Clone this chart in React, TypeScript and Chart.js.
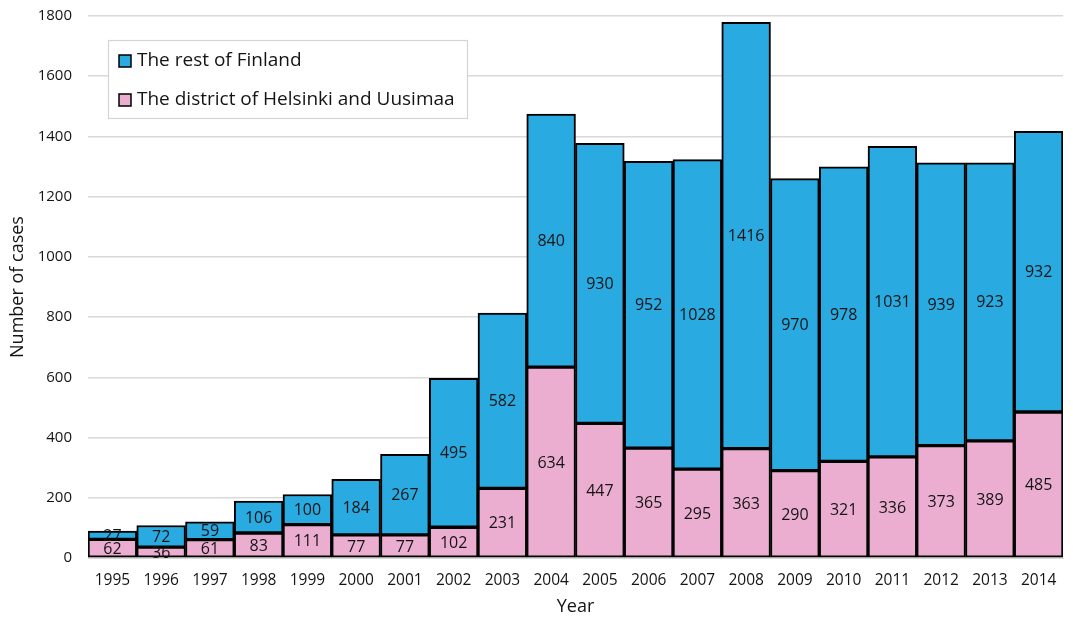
import React, { useEffect, useRef } from "react";
import { Chart, registerables } from "chart.js";

Chart.register(...registerables);

const years = ["1995","1996","1997","1998","1999","2000","2001","2002","2003","2004","2005","2006","2007","2008","2009","2010","2011","2012","2013","2014"];
const helsinkiUusimaa = [62,36,61,83,111,77,77,102,231,634,447,365,295,363,290,321,336,373,389,485];
const restOfFinland = [27,72,59,106,100,184,267,495,582,840,930,952,1028,1416,970,978,1031,939,923,932];
const yTicks = [0,200,400,600,800,1000,1200,1400,1600,1800];

const FONT = "'Open Sans', 'DejaVu Sans', sans-serif";
const TEXT = "#141414";

const labelPlugin = {
  id: "segLabels",
  afterDatasetsDraw(chart: any) {
    const ctx = chart.ctx;
    const area = chart.chartArea;
    ctx.save();
    ctx.beginPath();
    ctx.rect(area.left, area.top, area.right - area.left, area.bottom - area.top);
    ctx.clip();
    ctx.font = `16px ${FONT}`;
    ctx.fillStyle = TEXT;
    ctx.textAlign = "center";
    ctx.textBaseline = "middle";
    chart.data.datasets.forEach((ds: any, di: number) => {
      const meta = chart.getDatasetMeta(di);
      meta.data.forEach((bar: any, i: number) => {
        const p = bar.getProps(["x", "y", "base"], true);
        ctx.fillText(String(ds.data[i]), p.x, (p.y + p.base) / 2 + 1);
      });
    });
    ctx.restore();

    // legend
    const items = [chart.data.datasets[1], chart.data.datasets[0]];
    const bx = 108, by = 40, bw = 359, bh = 78;
    ctx.save();
    ctx.fillStyle = "#ffffff";
    ctx.fillRect(bx, by, bw, bh);
    ctx.strokeStyle = "#d4d4d4";
    ctx.lineWidth = 1.2;
    ctx.strokeRect(bx + 0.5, by + 0.5, bw, bh);
    ctx.font = `19px ${FONT}`;
    ctx.textBaseline = "middle";
    ctx.textAlign = "left";
    items.forEach((ds: any, k: number) => {
      const cy = by + 21 + k * 39;
      ctx.fillStyle = ds.backgroundColor;
      ctx.fillRect(119, cy - 6, 12, 12);
      ctx.strokeStyle = "#000";
      ctx.lineWidth = 1.5;
      ctx.strokeRect(119, cy - 6, 12, 12);
      ctx.fillStyle = TEXT;
      ctx.fillText(ds.label, 137, cy);
    });
    ctx.restore();
  },
};

export default function App() {
  const ref = useRef<HTMLCanvasElement | null>(null);
  useEffect(() => {
    if (!ref.current) return;
    const chart = new Chart(ref.current, {
      type: "bar",
      data: {
        labels: years,
        datasets: [
          {
            label: "The district of Helsinki and Uusimaa",
            data: helsinkiUusimaa,
            backgroundColor: "#ebaed0",
            borderColor: "#000000",
            borderWidth: 2,
            borderSkipped: false,
          },
          {
            label: "The rest of Finland",
            data: restOfFinland,
            backgroundColor: "#29abe2",
            borderColor: "#000000",
            borderWidth: 2,
            borderSkipped: false,
          },
        ],
      },
      options: {
        animation: false,
        responsive: true,
        maintainAspectRatio: false,
        layout: { padding: { top: 16, right: 10, left: 0, bottom: 0 } },
        plugins: { legend: { display: false }, tooltip: { enabled: false } },
        datasets: { bar: { categoryPercentage: 1, barPercentage: 1 } },
        scales: {
          x: {
            stacked: true,
            grid: { display: false, drawTicks: false },
            border: { display: true, color: "#d9d9d9" },
            ticks: { color: TEXT, font: { family: FONT, size: 15.5 }, padding: 13, maxRotation: 0 },
            title: { display: true, text: "Year", color: TEXT, font: { family: FONT, size: 18 }, padding: { top: 4, bottom: 3 } },
            afterFit(scale: any) { scale.height = 63; scale.paddingLeft = 0; scale.paddingRight = 0; },
          },
          y: {
            stacked: true,
            min: 0,
            max: 1800,
            afterBuildTicks(scale: any) { scale.ticks = yTicks.map((v) => ({ value: v })); },
            grid: { color: "#d9d9d9", lineWidth: 1.5, drawTicks: false },
            border: { display: false },
            ticks: { color: TEXT, font: { family: FONT, size: 15 }, padding: 16, callback: (v: any) => String(v) },
            title: { display: true, text: "Number of cases", color: TEXT, font: { family: FONT, size: 18 }, padding: { top: 7, bottom: 4 } },
            afterFit(scale: any) { scale.width = 88; scale.paddingTop = 0; scale.paddingBottom = 0; },
          },
        },
      },
      plugins: [labelPlugin],
    });
    return () => chart.destroy();
  }, []);
  return (
    <div style={{ position: "absolute", left: 0, top: 0, width: 1073, height: 621, background: "#fff" }}>
      <canvas ref={ref} />
    </div>
  );
}
